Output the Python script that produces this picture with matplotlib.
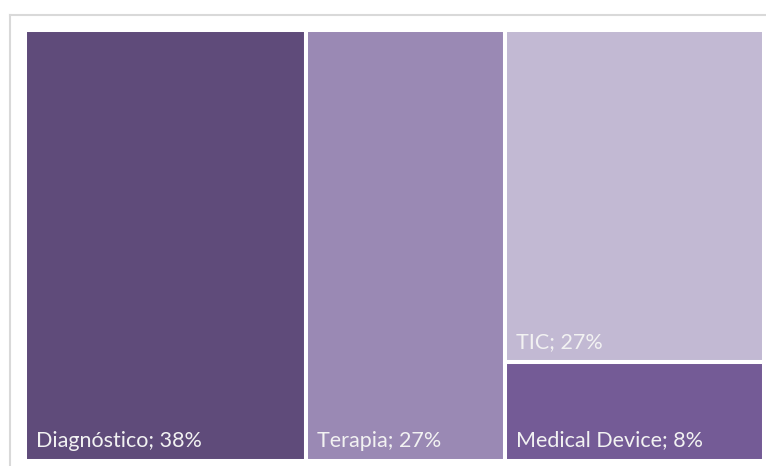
import matplotlib
matplotlib.use('Agg')
import matplotlib.pyplot as plt
from matplotlib.patches import Rectangle
from matplotlib.lines import Line2D

# treemap data (percent)
labels = ['Diagnóstico', 'Terapia', 'TIC', 'Medical Device']
values = [38, 27, 27, 8]
colors = ['#5f4b7a', '#9a89b4', '#c2b9d3', '#745b96']
# columns of the layout: indices into labels
columns = [[0], [1], [2, 3]]

W, H = 766, 466
fig = plt.figure(figsize=(W / 100, H / 100), dpi=100)
fig.patch.set_facecolor('white')

# light frame around chart area (top and left visible)
fig.add_artist(Line2D([9.5 / W, 1], [1 - 14.5 / H, 1 - 14.5 / H], color='#d9d9d9', lw=1.5))
fig.add_artist(Line2D([9.5 / W, 9.5 / W], [1 - 14.5 / H, 0], color='#d9d9d9', lw=1.5))

ax = fig.add_axes([25 / W, 1 - 461 / H, (764 - 25) / W, (461 - 30) / H])
total = sum(values)
ax.set_xlim(0, total)
ax.set_ylim(1, 0)
ax.axis('off')

x = 0
for col in columns:
    w = sum(values[i] for i in col)
    y = 0
    for i in col:
        h = values[i] / w
        ax.add_patch(Rectangle((x, y), w, h, facecolor=colors[i], edgecolor='white', lw=2.9))
        ax.annotate(f'{labels[i]}; {values[i]}%', xy=(x, y + h), xytext=(8.0, 10.4),
                    textcoords='offset points', ha='left', va='baseline',
                    color='#f2f2f2', fontsize=15.5, family=['Lato', 'DejaVu Sans'])
        y += h
    x += w

fig.savefig('out.png', dpi=100)
